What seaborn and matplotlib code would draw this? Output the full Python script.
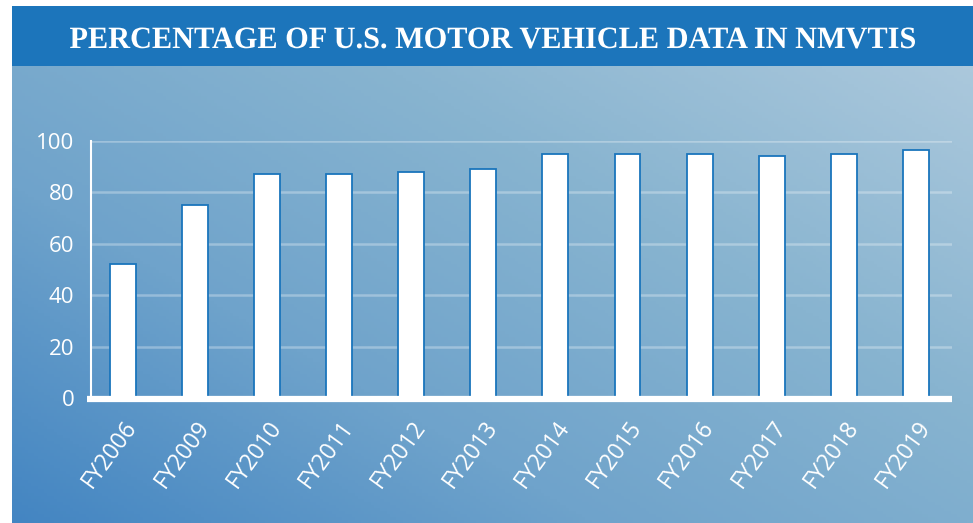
import numpy as np
import pandas as pd
import matplotlib
matplotlib.use("Agg")
import matplotlib.pyplot as plt
import matplotlib.transforms as mtransforms
import seaborn as sns
from matplotlib.colors import LinearSegmentedColormap
from matplotlib.patches import Rectangle, PathPatch
from matplotlib.textpath import TextPath
from matplotlib.font_manager import FontProperties

categories = ["FY2006", "FY2009", "FY2010", "FY2011", "FY2012", "FY2013",
              "FY2014", "FY2015", "FY2016", "FY2017", "FY2018", "FY2019"]
values = [52, 75, 87, 87, 88, 89, 95, 95, 95, 94, 95, 96.5]
yticks = [0, 20, 40, 60, 80, 100]
title = "PERCENTAGE OF U.S. MOTOR VEHICLE DATA IN NMVTIS"

sns.set_theme(style="white")
plt.rcParams['font.family'] = ['Open Sans', 'DejaVu Sans']

W, H = 973, 523
fig = plt.figure(figsize=(W / 100, H / 100), dpi=100)
fig.patch.set_facecolor("white")

# background gradient panel
bg = fig.add_axes([12 / W, 0, 1 - 12 / W, (H - 66) / H], zorder=0)
nx, ny = 300, 150
u = np.linspace(0, 1, nx)[None, :]
v = np.linspace(1, 0, ny)[:, None]
t = (u * 0.55 + v * 0.45)
cmap = LinearSegmentedColormap.from_list(
    "bgc", ["#4385c2", "#6fa3cb", "#88b4d0", "#abc8dc"], N=256)
bg.imshow(t, cmap=cmap, aspect="auto", extent=[0, 1, 0, 1], vmin=0, vmax=1)
bg.set_axis_off()

# banner
fig.patches.append(Rectangle((12 / W, (H - 66) / H), 1 - 12 / W, 60 / H,
                             transform=fig.transFigure, facecolor="#1c75bb",
                             edgecolor="none", zorder=1))

# title as a slightly condensed path (pixel units)
fp = FontProperties(family="Liberation Serif", weight="bold")
tp = TextPath((0, 0), title, size=31, prop=fp)
bb = tp.get_extents()
target_w, cx, base_y = 845, (12 + W) / 2, H - 48
sx = target_w / bb.width
tr = (mtransforms.Affine2D().translate(-bb.x0 - bb.width / 2, 0)
      .scale(sx, 1.0).translate(cx, base_y))
patch = PathPatch(tr.transform_path(tp), facecolor="white", edgecolor="none",
                  transform=mtransforms.IdentityTransform(), zorder=3)
fig.patches.append(patch)

df = pd.DataFrame({"year": categories, "pct": values})

ax = fig.add_axes([91 / W, (H - 398.5) / H, (952 - 91) / W, (398.5 - 140.7) / H], zorder=2)
ax.patch.set_alpha(0)
sns.barplot(data=df, x="year", y="pct", ax=ax, color="white", width=0.36,
            edgecolor="#1a75bc", linewidth=1.3, saturation=1, zorder=3)
ax.set_xlim(-0.44, 11.5)
ax.set_ylim(0, 100)
ax.set_yticks(yticks)
for y in yticks[1:]:
    ax.axhline(y, color="white", alpha=0.3, lw=1.8, zorder=1)
ax.plot([-0.5, 11.5], [0, 0], color="white", lw=4.5, solid_capstyle="butt",
        clip_on=False, zorder=4)
for s in ["top", "right", "bottom"]:
    ax.spines[s].set_visible(False)
ax.spines["left"].set_color("white")
ax.spines["left"].set_linewidth(1.5)
ax.set_xlabel("")
ax.set_ylabel("")
ax.tick_params(axis="y", colors="white", labelsize=16, length=0, pad=12)
ax.tick_params(axis="x", colors="white", labelsize=16.5, length=0, pad=18)
offset = mtransforms.ScaledTranslation(10 / 100, 0, fig.dpi_scale_trans)
for lbl in ax.get_xticklabels():
    lbl.set_rotation(54)
    lbl.set_ha("right")
    lbl.set_va("center")
    lbl.set_rotation_mode("anchor")
    lbl.set_transform(lbl.get_transform() + offset)
ax.grid(False)

fig.savefig("out.png", dpi=100)
